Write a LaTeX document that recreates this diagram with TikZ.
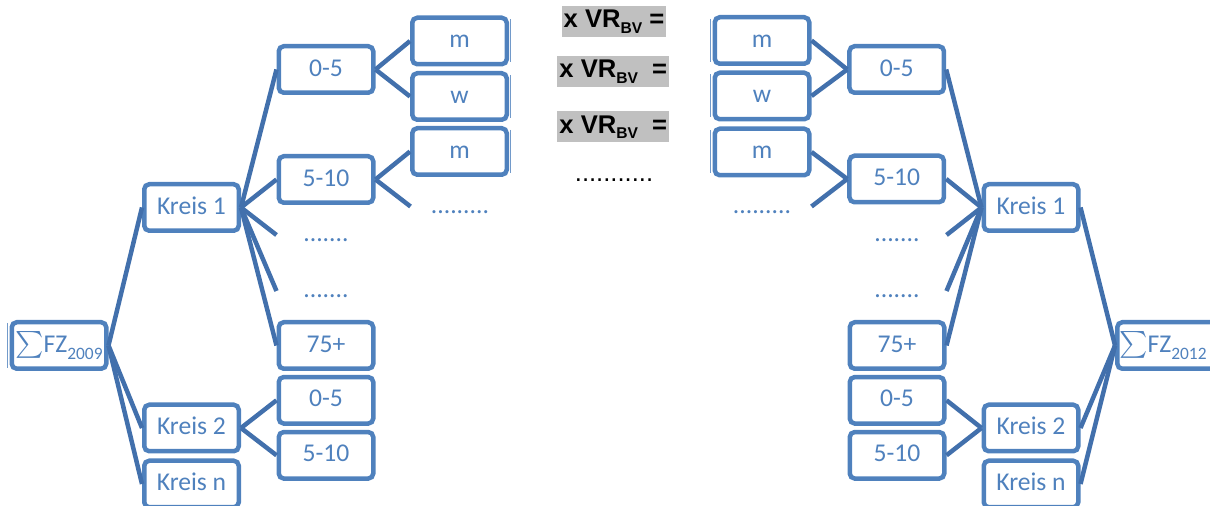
\documentclass[tikz,border=0pt]{standalone}
\usepackage{amsmath}
\usepackage{graphicx}
\usepackage{fontspec}
\setmainfont{Carlito}
\newfontfamily\arialfont{Liberation Sans}
\usepackage{xcolor}
\definecolor{colorBox}{RGB}{79,129,189}
\definecolor{colorLink}{RGB}{66,112,172}
\definecolor{colorShade}{RGB}{192,192,192}
\usetikzlibrary{positioning}
\newcommand{\lowsub}[1]{\raisebox{-3.5pt}{\fontsize{8.7}{10}\selectfont #1}}
\newcommand{\vrsub}[1]{\raisebox{-2.8pt}{\fontsize{7.8}{9}\selectfont #1}}
\newcommand{\bigsum}{\scalebox{1.12}{$\sum$}}
\tikzset{
  agebox/.style={draw=colorBox, line width=2.25pt, rounded corners=2.5pt, text=colorBox,
    minimum width=47.25pt, minimum height=23.25pt, inner sep=0pt,
    text height=8.3pt, text depth=1.7pt, font=\fontsize{12.8}{15}\selectfont},
  gapdots/.style={agebox, draw=none},
  link/.style={draw=colorLink, line width=2.25pt},
  ghostline/.style={draw=colorBox!80, line width=0.6pt},
  vrlabel/.style={fill=colorShade, inner xsep=1pt, inner ysep=0pt, minimum height=15.5pt,
    text height=9.2pt, text depth=2.5pt, font=\arialfont\bfseries\fontsize{12.8}{14}\selectfont}
}

\begin{document}
\begin{tikzpicture}[x=0.5pt, y=-0.5pt]
\useasboundingbox (0,0) rectangle (1210,506);
\begin{scope}
\clip (0,0) rectangle (1210,506);
% left tree: 2009
\node[agebox] (sumL) at (59,345.5) {\bigsum FZ\lowsub{2009}};
\node[agebox] (k1L) at (191.5,207.5) {Kreis 1};
\node[agebox] (k2L) at (191.5,428) {Kreis 2};
\node[agebox] (knL) at (191.5,484) {Kreis n};
\node[agebox] (a05L) at (326,69.5) {0-5};
\node[agebox] (a510L) at (326,179.5) {5-10};
\node[gapdots] (dotsA) at (326,235) {.......};
\node[gapdots] (dotsB) at (326,291) {.......};
\node[agebox] (a75L) at (326,345.5) {75+};
\node[agebox] (b05L) at (326,400.3) {0-5};
\node[agebox] (b510L) at (326,455.3) {5-10};
\node[agebox] (mL1) at (459.5,41) {m};
\node[agebox] (wL) at (459.5,96.5) {w};
\node[agebox] (mL2) at (459.5,151.5) {m};
\node[gapdots] (dotsC) at (460,206.5) {.........};
\foreach \kid in {k1L,k2L,knL} \draw[link] (sumL.east) -- (\kid.west);
\foreach \kid in {a05L,a510L,dotsA,dotsB,a75L} \draw[link] (k1L.east) -- (\kid.west);
\foreach \kid in {b05L,b510L} \draw[link] (k2L.east) -- (\kid.west);
\foreach \kid in {mL1,wL} \draw[link] (a05L.east) -- (\kid.west);
\foreach \kid in {mL2,dotsC} \draw[link] (a510L.east) -- (\kid.west);
\draw[ghostline] ([xshift=-1.2pt,yshift=-1.5pt]sumL.north west) -- ([xshift=-1.2pt,yshift=1.5pt]sumL.south west);
\foreach \kid in {mL1,wL,mL2}
  \draw[ghostline] ([xshift=0.9pt,yshift=-2pt]\kid.north east) -- ([xshift=0.9pt,yshift=2pt]\kid.south east);
% middle: factors
\node[vrlabel] (vr1) at (614,21.3) {x VR\vrsub{BV} =};
\node[vrlabel] (vr2) at (613.3,71.3) {x VR\vrsub{BV}\ \ =};
\node[vrlabel] (vr3) at (613.3,126.7) {x VR\vrsub{BV}\ \ =};
\node[font=\arialfont\fontsize{12.8}{14}\selectfont, inner sep=0pt] (vrdots) at (614,180) {...........};
% right tree: 2012
\node[agebox] (mR1) at (762,40.5) {m};
\node[agebox] (wR) at (762,96) {w};
\node[agebox] (mR2) at (762,152) {m};
\node[gapdots] (dotsD) at (762,206.5) {.........};
\node[agebox] (a05R) at (896.7,69.5) {0-5};
\node[agebox] (a510R) at (896.7,179) {5-10};
\node[gapdots] (dotsE) at (897,235) {.......};
\node[gapdots] (dotsF) at (897,291) {.......};
\node[agebox] (a75R) at (897,345.5) {75+};
\node[agebox] (b05R) at (897,400.3) {0-5};
\node[agebox] (b510R) at (897,455.3) {5-10};
\node[agebox] (k1R) at (1031,207.5) {Kreis 1};
\node[agebox] (k2R) at (1031,428) {Kreis 2};
\node[agebox] (knR) at (1031,484) {Kreis n};
\node[agebox, text width=50pt, align=left] (sumR) at (1167.3,345.5) {\hspace{1pt}\bigsum FZ\lowsub{2012}};
\foreach \kid in {k1R,k2R,knR} \draw[link] (\kid.east) -- (sumR.west);
\foreach \kid in {a05R,a510R,dotsE,dotsF,a75R} \draw[link] (\kid.east) -- (k1R.west);
\foreach \kid in {b05R,b510R} \draw[link] (\kid.east) -- (k2R.west);
\foreach \kid in {mR1,wR} \draw[link] (\kid.east) -- (a05R.west);
\foreach \kid in {mR2,dotsD} \draw[link] (\kid.east) -- (a510R.west);
\foreach \kid in {mR1,wR,mR2}
  \draw[ghostline] ([xshift=-0.9pt,yshift=-2pt]\kid.north west) -- ([xshift=-0.9pt,yshift=2pt]\kid.south west);
\end{scope}
\end{tikzpicture}
\end{document}
